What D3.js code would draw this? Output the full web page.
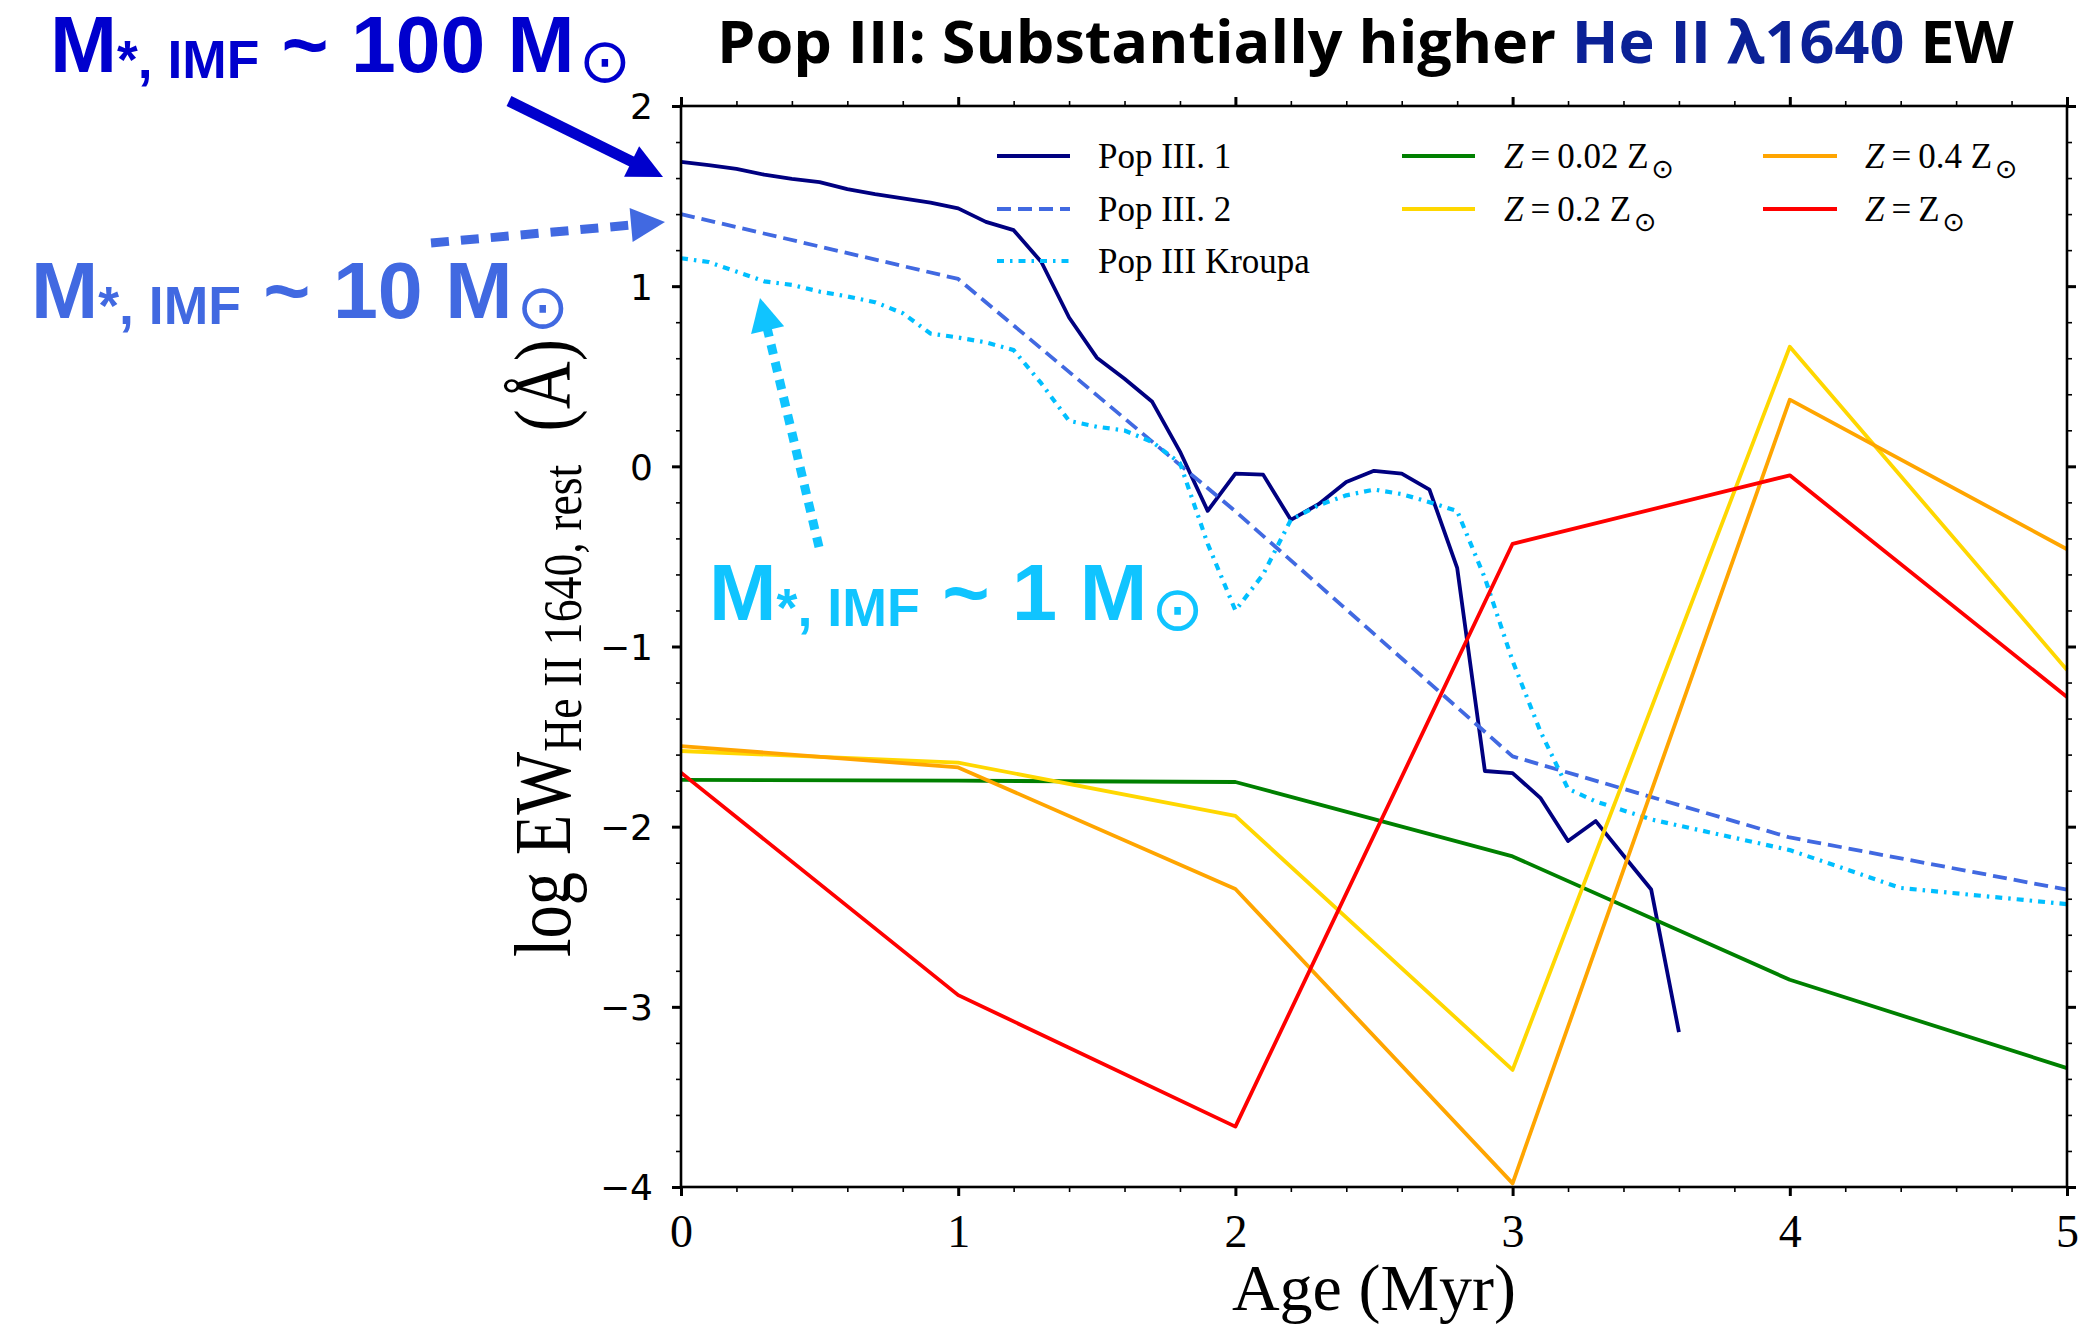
<!DOCTYPE html>
<html>
<head>
<meta charset="utf-8">
<script src="https://cdn.jsdelivr.net/npm/d3@7"></script>
<style>
  html, body { margin: 0; padding: 0; background: #fff; }
  svg { display: block; }
</style>
</head>
<body>
<svg id="chart" width="2084" height="1326"></svg>
<script>
// ---- data ---------------------------------------------------------------
const xDomain = [0, 5];
const yDomain = [-4, 2];
const xTickValues = [0, 1, 2, 3, 4, 5];
const yTickValues = [-4, -3, -2, -1, 0, 1, 2];

// Pop III.1 (fine age grid, Myr)
const agesPopIII1 = [0, 0.1, 0.2, 0.3, 0.4, 0.5, 0.6, 0.7, 0.8, 0.9,
                     1.0, 1.1, 1.2, 1.3, 1.4, 1.5, 1.6, 1.7, 1.8, 1.9,
                     2.0, 2.1, 2.2, 2.3, 2.4, 2.5, 2.6, 2.7, 2.8, 2.9,
                     3.0, 3.1, 3.2, 3.3, 3.4, 3.5, 3.6];
const ewPopIII1 = [1.69, 1.672, 1.651, 1.619, 1.596, 1.577, 1.539, 1.511, 1.487, 1.464,
                   1.432, 1.357, 1.311, 1.134, 0.826, 0.603, 0.486, 0.358, 0.082, -0.247,
                   -0.040, -0.046, -0.297, -0.210, -0.087, -0.025, -0.040, -0.129, -0.563, -1.691,
                   -1.703, -1.840, -2.080, -1.969, -2.160, -2.349, -3.140];

// Pop III.2
const agesPopIII2 = [0, 1, 2, 3, 4, 5];
const ewPopIII2 = [1.40, 1.04, -0.25, -1.61, -2.06, -2.35];

// Pop III Kroupa
const agesKroupa = [0, 0.1, 0.2, 0.3, 0.4, 0.5, 0.6, 0.7, 0.8, 0.9,
                    1.0, 1.1, 1.2, 1.3, 1.4, 1.5, 1.6, 1.7, 1.8, 1.9,
                    2.0, 2.1, 2.2, 2.3, 2.4, 2.5, 2.6, 2.7, 2.8, 2.9,
                    3.0, 3.1, 3.2, 3.3, 3.4, 3.5, 4.0, 4.4, 5.0];
const ewKroupa = [1.155, 1.134, 1.081, 1.027, 1.007, 0.970, 0.943, 0.911, 0.850, 0.737,
                  0.715, 0.688, 0.645, 0.460, 0.252, 0.220, 0.199, 0.135, 0.018, -0.430,
                  -0.800, -0.600, -0.297, -0.216, -0.161, -0.129, -0.154, -0.199, -0.248, -0.620,
                  -1.080, -1.470, -1.790, -1.860, -1.910, -1.960, -2.130, -2.340, -2.430];

// metal-enriched populations
const agesZ = [0, 1, 2, 3, 4, 5];
const ewZ002 = [-1.740, -1.745, -1.752, -2.165, -2.850, -3.340];
const ewZ02  = [-1.580, -1.645, -1.940, -3.350, 0.664, -1.130];
const ewZ04  = [-1.553, -1.671, -2.346, -3.980, 0.370, -0.460];
const ewZsun = [-1.700, -2.935, -3.665, -0.430, -0.050, -1.280];

// ---- layout ------------------------------------------------------------
const svg = d3.select("#chart");
const plot = { left: 681, right: 2067, top: 106, bottom: 1187 };
const x = d3.scaleLinear().domain(xDomain).range([plot.left, plot.right]);
const y = d3.scaleLinear().domain(yDomain).range([plot.bottom, plot.top]);

const serif = "'Liberation Serif', 'DejaVu Serif', serif";
const sans = "'DejaVu Sans', sans-serif";

const series = [
  { label: "popIII1", ages: agesPopIII1, values: ewPopIII1, color: "#000080", width: 3.8, dash: null,          col: 0, row: 0 },
  { label: "popIII2", ages: agesPopIII2, values: ewPopIII2, color: "#4169E1", width: 3.8, dash: "14 7",        col: 0, row: 1 },
  { label: "kroupa",  ages: agesKroupa,  values: ewKroupa,  color: "#00BFFF", width: 4.2, dash: "7 6 2.5 6",   col: 0, row: 2 },
  { label: "z002",    ages: agesZ,       values: ewZ002,    color: "#008000", width: 3.8, dash: null,          col: 1, row: 0 },
  { label: "z02",     ages: agesZ,       values: ewZ02,     color: "#FFD700", width: 3.8, dash: null,          col: 1, row: 1 },
  { label: "z04",     ages: agesZ,       values: ewZ04,     color: "#FFA500", width: 3.8, dash: null,          col: 2, row: 0 },
  { label: "zsun",    ages: agesZ,       values: ewZsun,    color: "#FF0000", width: 3.8, dash: null,          col: 2, row: 1 }
];

// ---- axes frame & ticks --------------------------------------------------
const minorX = d3.range(0, 5.0001, 0.2).map(v => +v.toFixed(1));
const minorY = d3.range(-4, 2.0001, 0.2).map(v => +v.toFixed(1));

function styleAxis(g, w) {
  g.select(".domain").remove();
  g.selectAll(".tick line").attr("stroke", "#000").attr("stroke-width", w);
}

// minor ticks (all four sides)
svg.append("g").attr("transform", `translate(0,${plot.bottom})`)
  .call(d3.axisBottom(x).tickValues(minorX).tickSize(5).tickFormat(""))
  .call(g => styleAxis(g, 1.6));
svg.append("g").attr("transform", `translate(0,${plot.top})`)
  .call(d3.axisTop(x).tickValues(minorX).tickSize(5).tickFormat(""))
  .call(g => styleAxis(g, 1.6));
svg.append("g").attr("transform", `translate(${plot.left},0)`)
  .call(d3.axisLeft(y).tickValues(minorY).tickSize(5).tickFormat(""))
  .call(g => styleAxis(g, 1.6));
svg.append("g").attr("transform", `translate(${plot.right},0)`)
  .call(d3.axisRight(y).tickValues(minorY).tickSize(5).tickFormat(""))
  .call(g => styleAxis(g, 1.6));

// major ticks with labels
const xAxis = svg.append("g").attr("transform", `translate(0,${plot.bottom})`)
  .call(d3.axisBottom(x).tickValues(xTickValues).tickSize(9).tickPadding(18).tickFormat(d3.format("d")))
  .call(g => styleAxis(g, 3));
xAxis.selectAll("text").attr("fill", "#000").attr("font-size", null)
  .style("font-family", serif).style("font-size", "46px");

svg.append("g").attr("transform", `translate(0,${plot.top})`)
  .call(d3.axisTop(x).tickValues(xTickValues).tickSize(9).tickFormat(""))
  .call(g => styleAxis(g, 3));

const yAxis = svg.append("g").attr("transform", `translate(${plot.left},0)`)
  .call(d3.axisLeft(y).tickValues(yTickValues).tickSize(9).tickPadding(19).tickFormat(d3.format("d")))
  .call(g => styleAxis(g, 3));
yAxis.selectAll("text").attr("fill", "#000").attr("dy", "0.36em")
  .style("font-family", sans).style("font-size", "36px");

svg.append("g").attr("transform", `translate(${plot.right},0)`)
  .call(d3.axisRight(y).tickValues(yTickValues).tickSize(9).tickFormat(""))
  .call(g => styleAxis(g, 3));

// ---- data lines ----------------------------------------------------------
const line = d3.line().x(d => x(d[0])).y(d => y(d[1]));
const lineLayer = svg.append("g");
series.forEach(s => {
  lineLayer.append("path")
    .datum(d3.zip(s.ages, s.values))
    .attr("d", line)
    .attr("fill", "none")
    .attr("stroke", s.color)
    .attr("stroke-width", s.width)
    .attr("stroke-linejoin", "round")
    .attr("stroke-dasharray", s.dash);
});

// plot frame
svg.append("rect")
  .attr("x", plot.left).attr("y", plot.top)
  .attr("width", plot.right - plot.left).attr("height", plot.bottom - plot.top)
  .attr("fill", "none").attr("stroke", "#000").attr("stroke-width", 2.6);

// ---- legend ----------------------------------------------------------------
const legendCols = [
  { x0: 997, x1: 1070, tx: 1098 },
  { x0: 1402, x1: 1475, tx: 1504 },
  { x0: 1763, x1: 1837, tx: 1865 }
];
const legendRows = [156, 209, 261];
const legend = svg.append("g");

function legendText(sel, key) {
  const t = sel.append("text").style("font-family", serif).style("font-size", "35px").attr("fill", "#000");
  if (key === "popIII1") t.text("Pop III. 1");
  else if (key === "popIII2") t.text("Pop III. 2");
  else if (key === "kroupa") t.text("Pop III Kroupa");
  else {
    const num = { z002: "0.02 ", z02: "0.2 ", z04: "0.4 ", zsun: "" }[key];
    t.append("tspan").style("font-style", "italic").text("Z");
    t.append("tspan").text("\u2009=\u2009" + num + "Z");
    t.append("tspan").attr("dx", 3).attr("dy", 10).style("font-size", "27px").style("font-family", sans).text("\u2299");
  }
  return t;
}

series.forEach(s => {
  const c = legendCols[s.col], ry = legendRows[s.row];
  legend.append("line")
    .attr("x1", c.x0).attr("x2", c.x1).attr("y1", ry).attr("y2", ry)
    .attr("stroke", s.color).attr("stroke-width", s.width)
    .attr("stroke-dasharray", s.dash);
  const t = legendText(legend, s.label);
  t.attr("x", c.tx).attr("y", ry + 12);
});

// ---- axis titles -----------------------------------------------------------
svg.append("text")
  .attr("x", (plot.left + plot.right) / 2).attr("y", 1310)
  .attr("text-anchor", "middle")
  .style("font-family", serif).style("font-size", "66px").attr("fill", "#000")
  .text("Age (Myr)");

// y-axis title, rotated and fitted to its slot
const yTitleG = svg.append("g");
const yTitle = yTitleG.append("text").style("font-family", serif).attr("fill", "#000");
yTitle.append("tspan").style("font-size", "64px").text("log EW");
yTitle.append("tspan").style("font-size", "44px").attr("dy", 9).text("He II 1640, rest");
yTitle.append("tspan").style("font-size", "64px").attr("dy", -9).text("\u2002(\u00C5)");
{
  const bb = yTitle.node().getBBox();
  const sL = 618 / bb.width;
  const sT = 1.25;
  yTitleG.attr("transform",
    `translate(546,648) rotate(-90) scale(${sL},${sT}) translate(${-(bb.x + bb.width / 2)},${-(bb.y + bb.height / 2)})`);
}

// ---- title -----------------------------------------------------------------
const title = svg.append("text").attr("x", 0).attr("y", 63)
  .style("font-family", "'Open Sans', 'Noto Sans', sans-serif")
  .style("font-weight", "bold").style("font-size", "60px");
title.append("tspan").attr("fill", "#000").text("Pop III: Substantially higher ");
title.append("tspan").attr("fill", "#0B2196").text("He II \u03BB1640");
title.append("tspan").attr("fill", "#000").text(" EW");

function fitHoriz(sel, x0, x1) {
  const bb = sel.node().getBBox();
  const s = (x1 - x0) / bb.width;
  sel.attr("transform", `translate(${x0 - bb.x * s},0) scale(${s},1)`);
}
fitHoriz(title, 717, 2015);

// ---- IMF mass annotations --------------------------------------------------
function massLabel(x0, x1, baseline, color, num) {
  const t = svg.append("text").attr("x", 0).attr("y", baseline).attr("fill", color)
    .style("font-family", "'Liberation Sans', Arial, sans-serif").style("font-weight", "bold");
  t.append("tspan").style("font-size", "80px").text("M");
  t.append("tspan").style("font-size", "53px").attr("dy", 6).text("*, IMF");
  t.append("tspan").style("font-size", "80px").attr("dy", -6).text(` ~ ${num} M`);
  t.append("tspan").style("font-size", "62px").attr("dx", 4).attr("dy", 10)
    .style("font-weight", "normal").style("font-family", sans).text("\u2299");
  fitHoriz(t, x0, x1);
}
massLabel(50, 631, 72, "#0000CD", "100");
massLabel(31, 569, 318, "#4169E1", "10");
massLabel(709, 1204, 620, "#10C4FF", "1");

// arrows pointing at the model curves
function arrow(tail, tip, color, width, dash, headLen, headW) {
  const dx = tip[0] - tail[0], dy = tip[1] - tail[1];
  const L = Math.hypot(dx, dy), ux = dx / L, uy = dy / L;
  const bx = tip[0] - ux * headLen, by = tip[1] - uy * headLen;
  svg.append("line")
    .attr("x1", tail[0]).attr("y1", tail[1]).attr("x2", bx + ux * 2).attr("y2", by + uy * 2)
    .attr("stroke", color).attr("stroke-width", width)
    .attr("stroke-dasharray", dash);
  const px = -uy, py = ux;
  svg.append("polygon")
    .attr("points", [
      [tip[0], tip[1]],
      [bx + px * headW / 2, by + py * headW / 2],
      [bx - px * headW / 2, by - py * headW / 2]
    ].map(p => p.join(",")).join(" "))
    .attr("fill", color);
}
arrow([509, 101], [663, 177], "#0000CD", 11, null, 35, 34);
arrow([431, 243], [665, 222], "#4169E1", 9, "18 12", 34, 34);
arrow([819, 547], [760, 298], "#10C4FF", 9, "10 8", 33, 34);
</script>
</body>
</html>
